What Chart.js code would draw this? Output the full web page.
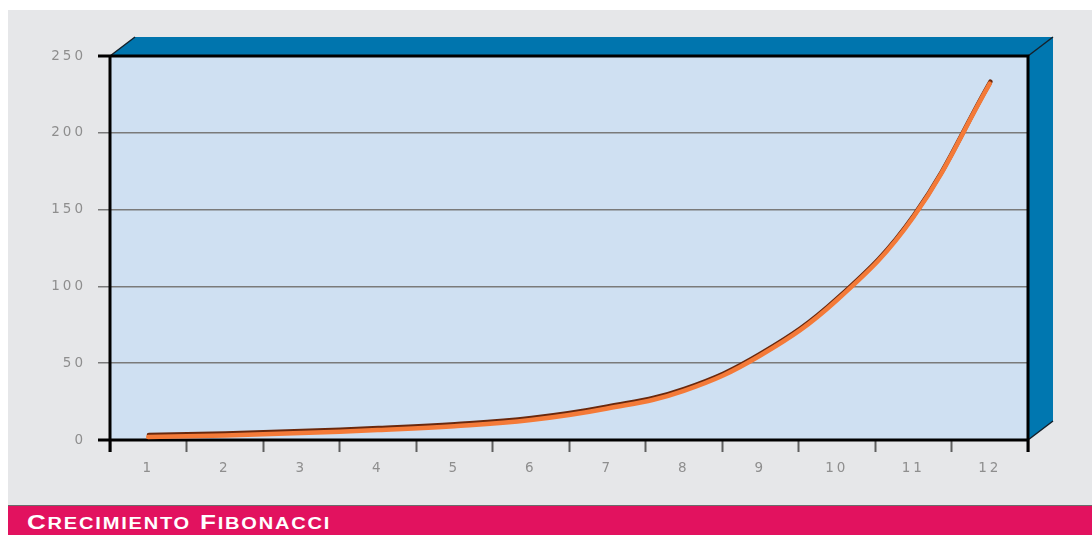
<!DOCTYPE html>
<html lang="es">
<head>
<meta charset="utf-8">
<title>Crecimiento Fibonacci</title>
<script src="https://cdn.jsdelivr.net/npm/chart.js@4.4.1/dist/chart.umd.min.js"></script>
<style>
  html, body { margin: 0; padding: 0; background: #ffffff; width: 1092px; height: 535px; overflow: hidden; }
  #panel { position: absolute; left: 8px; top: 10px; width: 1084px; height: 495px; background: #e6e7e9; }
  #chart { position: absolute; left: 0; top: 0; }
  #band {
    position: absolute; left: 8px; top: 505px; width: 1084px; height: 30px;
    background: #e2125f; border-top: 1px solid #6b6b6b; box-sizing: border-box; overflow: hidden;
  }
  #band .txt {
    position: absolute; left: 19px; top: 5px; white-space: nowrap;
    font-family: "Liberation Sans", Arial, sans-serif; font-weight: bold; color: #ffffff;
    letter-spacing: 1.4px; transform: scaleX(1.27); transform-origin: left top; line-height: 22px;
  }
  #band .big { font-size: 20.5px; }
  #band .sm { font-size: 15.8px; }
</style>
</head>
<body>
<div id="panel"></div>
<canvas id="chart" width="1092" height="505"></canvas>
<div id="band"><span class="txt"><span class="big">C</span><span class="sm">RECIMIENTO</span><span class="big"> F</span><span class="sm">IBONACCI</span></span></div>
<script>
// Periods along the horizontal axis
const periods = ['1', '2', '3', '4', '5', '6', '7', '8', '9', '10', '11', '12'];
// Growth values for each period
const growth = [2, 3, 4.5, 6.5, 9, 13, 20.5, 32, 55, 91, 145, 232];
// Vertical scale
const yMin = 0;
const yMax = 250;
const yStep = 50;

const DEPTH_X = 25, DEPTH_Y = 19;

// Blue 3D box faces and light plot background, painted under the grid
const boxPlugin = {
  id: 'box3d',
  beforeDraw(chart) {
    const { ctx, chartArea: a } = chart;
    ctx.save();
    ctx.letterSpacing = '0px';
    ctx.fillStyle = '#cfe0f2';
    ctx.fillRect(a.left, a.top, a.right - a.left, a.bottom - a.top);
    ctx.fillStyle = '#0075ae';
    ctx.beginPath();
    ctx.moveTo(a.left, a.top);
    ctx.lineTo(a.left + DEPTH_X, a.top - DEPTH_Y);
    ctx.lineTo(a.right + DEPTH_X, a.top - DEPTH_Y);
    ctx.lineTo(a.right, a.top);
    ctx.closePath();
    ctx.fill();
    ctx.fillStyle = '#0077b0';
    ctx.beginPath();
    ctx.moveTo(a.right, a.top);
    ctx.lineTo(a.right + DEPTH_X, a.top - DEPTH_Y);
    ctx.lineTo(a.right + DEPTH_X, a.bottom - DEPTH_Y);
    ctx.lineTo(a.right, a.bottom);
    ctx.closePath();
    ctx.fill();
    ctx.strokeStyle = '#14202a';
    ctx.lineWidth = 1.5;
    ctx.beginPath();
    ctx.moveTo(a.left, a.top); ctx.lineTo(a.left + DEPTH_X, a.top - DEPTH_Y);
    ctx.moveTo(a.right, a.top); ctx.lineTo(a.right + DEPTH_X, a.top - DEPTH_Y);
    ctx.moveTo(a.right, a.bottom); ctx.lineTo(a.right + DEPTH_X, a.bottom - DEPTH_Y);
    ctx.stroke();
    ctx.restore();
    // wide tracking for the tick labels
    ctx.letterSpacing = '3px';
  },
  beforeDatasetsDraw(chart) {
    const { ctx, chartArea: a } = chart;
    ctx.save();
    ctx.strokeStyle = '#000000';
    ctx.lineWidth = 3;
    ctx.lineCap = 'butt';
    ctx.beginPath();
    ctx.moveTo(a.left - 12, a.top); ctx.lineTo(a.right, a.top);
    ctx.moveTo(a.left - 12, a.bottom); ctx.lineTo(a.right, a.bottom);
    ctx.moveTo(a.left, a.top - 1.5); ctx.lineTo(a.left, a.bottom + 12);
    ctx.moveTo(a.right, a.top - 1.5); ctx.lineTo(a.right, a.bottom + 12);
    ctx.stroke();
    ctx.restore();
  }
};

// Dark edge along the top of the curve
const edgePlugin = {
  id: 'lineEdge',
  beforeDatasetDraw(chart) {
    const ctx = chart.ctx;
    ctx.save();
    ctx.shadowColor = '#6a280c';
    ctx.shadowOffsetX = 0.7;
    ctx.shadowOffsetY = -2;
    ctx.shadowBlur = 0.6;
  },
  afterDatasetDraw(chart) {
    chart.ctx.restore();
  }
};

const tickFont = { family: '"DejaVu Sans", sans-serif', size: 13.5 };

new Chart(document.getElementById('chart'), {
  type: 'line',
  data: {
    labels: periods,
    datasets: [{
      data: growth,
      borderColor: '#f47a38',
      borderWidth: 4.5,
      borderCapStyle: 'round',
      tension: 0.4,
      pointRadius: 0,
      fill: false,
      clip: 8
    }]
  },
  options: {
    responsive: false,
    animation: false,
    devicePixelRatio: 1,
    layout: { padding: { left: 0, top: 56, right: 64, bottom: 25 } },
    plugins: { legend: { display: false }, tooltip: { enabled: false }, title: { display: false } },
    scales: {
      x: {
        type: 'category',
        offset: true,
        border: { display: false },
        grid: {
          offset: true,
          drawOnChartArea: false,
          drawTicks: true,
          tickLength: 12,
          tickColor: '#5f5f5f',
          tickWidth: 2
        },
        ticks: { color: '#8e8e8e', font: tickFont, padding: 8, maxRotation: 0, autoSkip: false },
        afterFit(scale) { scale.height = 40; }
      },
      y: {
        min: yMin,
        max: yMax,
        border: { display: false },
        grid: {
          color: '#7a7a7a',
          lineWidth: 1.5,
          drawTicks: true,
          tickLength: 12,
          tickColor: '#7a7a7a',
          tickWidth: 1.5
        },
        ticks: { stepSize: yStep, color: '#8e8e8e', font: tickFont, padding: 12 },
        afterFit(scale) { scale.width = 110; }
      }
    }
  },
  plugins: [boxPlugin, edgePlugin]
});
</script>
</body>
</html>
